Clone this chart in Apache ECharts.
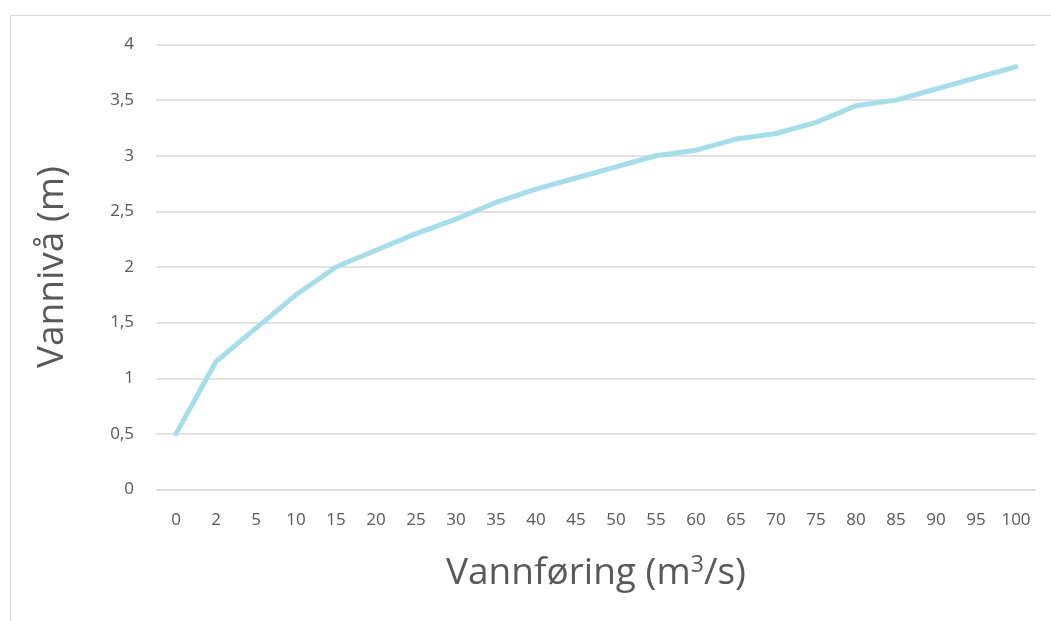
<!DOCTYPE html>
<html><head><meta charset="utf-8">
<script src="https://cdn.jsdelivr.net/npm/echarts@6/dist/echarts.min.js"></script>
<style>html,body{margin:0;padding:0;background:#fff}#c{width:1051px;height:621px}</style>
</head><body><div id="c"></div>
<script>
const categories = ['0','2','5','10','15','20','25','30','35','40','45','50','55','60','65','70','75','80','85','90','95','100'];
const vanniva = [0.5,1.15,1.45,1.75,2.0,2.15,2.3,2.43,2.58,2.7,2.8,2.9,3.0,3.05,3.15,3.2,3.3,3.45,3.5,3.6,3.7,3.8];
const yTicks = {min:0, max:4, interval:0.5};
const font = 'Open Sans, Liberation Sans, sans-serif';
const chart = echarts.init(document.getElementById('c'));
chart.setOption({
  animation:false,
  graphic:[{type:'rect',shape:{x:10.5,y:15.5,width:1100,height:700},style:{fill:'none',stroke:'#d9d9d9',lineWidth:1},silent:true}],
  grid:{left:156,right:15,top:44.5,bottom:131.5},
  xAxis:{type:'category',data:categories,boundaryGap:true,
    axisLine:{show:true,lineStyle:{color:'#d9d9d9',width:1}},axisTick:{show:false},
    axisLabel:{color:'#595959',fontSize:17,fontFamily:font,margin:22,interval:0},
    name:'{a|Vannføring (m}{s|3}{a|/s)}',nameLocation:'middle',nameGap:64,
    nameTextStyle:{rich:{a:{fontSize:37,color:'#595959',fontFamily:font},s:{fontSize:23,color:'#595959',fontFamily:font,verticalAlign:'top',padding:[0,0,16,0]}}}},
  yAxis:{type:'value',min:yTicks.min,max:yTicks.max,interval:yTicks.interval,
    axisLine:{show:false},axisTick:{show:false},
    splitLine:{lineStyle:{color:'#d9d9d9',width:1.5}},
    axisLabel:{color:'#595959',fontSize:17,fontFamily:font,margin:22,formatter:v=>String(v).replace('.',',')},
    name:'Vannivå (m)',nameLocation:'middle',nameGap:85,
    nameTextStyle:{fontSize:37,color:'#595959',fontFamily:font}},
  series:[{type:'line',data:vanniva,symbol:'none',lineStyle:{color:'#a5dde8',width:5,cap:'round'}}]
});
</script></body></html>
